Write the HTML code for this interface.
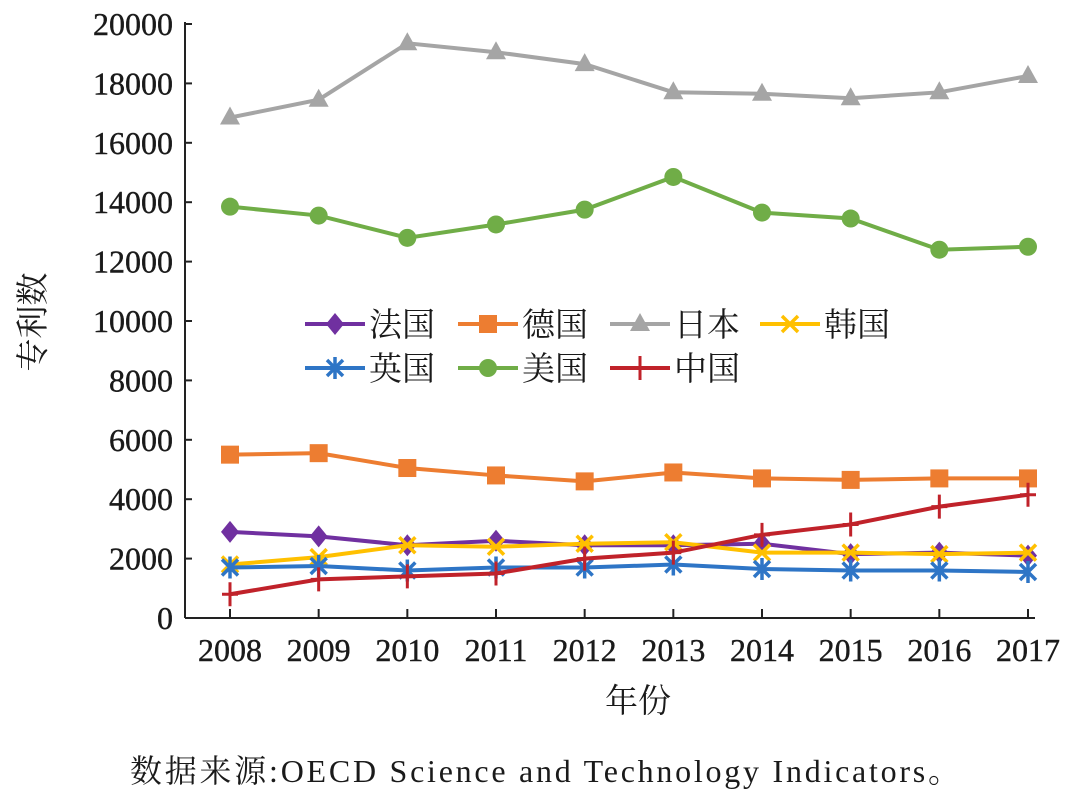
<!DOCTYPE html>
<html><head><meta charset="utf-8"><style>
body{margin:0;background:#fff;}
svg text{font-family:"Liberation Serif","Noto Serif CJK SC",serif;fill:#1a1a1a;}
</style></head><body>
<svg width="1080" height="804" xmlns="http://www.w3.org/2000/svg">
<g id="axes"></g><g id="series"></g><g id="legend"></g>
<text x="638" y="712" font-size="33" text-anchor="middle">年份</text>
<text transform="translate(44,322) rotate(-90)" font-size="33" text-anchor="middle">专利数</text>
<text x="130" y="782" font-size="32" textLength="830" lengthAdjust="spacing">数据来源:OECD Science and Technology Indicators。</text>
</svg>
<script>
const years=[2008,2009,2010,2011,2012,2013,2014,2015,2016,2017];
const yTicks=[0,2000,4000,6000,8000,10000,12000,14000,16000,18000,20000];
const france=[2900,2750,2450,2600,2450,2450,2500,2150,2200,2100];
const germany=[5500,5550,5050,4800,4600,4900,4700,4650,4700,4700];
const japan=[16850,17450,19350,19050,18650,17700,17650,17500,17700,18250];
const korea=[1800,2050,2450,2400,2500,2550,2200,2200,2150,2200];
const uk=[1700,1750,1600,1700,1700,1800,1650,1600,1600,1550];
const usa=[13850,13550,12800,13250,13750,14850,13650,13450,12400,12500];
const china=[800,1300,1400,1500,2000,2200,2800,3150,3750,4150];
const NS="http://www.w3.org/2000/svg";
const x0=185,x1=1035,yB=618,yT=24;
const xs=i=>230+i*(1028-230)/(years.length-1);
const ys=v=>yB-(v/20000)*(yB-yT);
function mk(t,a,p){const e=document.createElementNS(NS,t);for(const k in a)e.setAttribute(k,a[k]);p.appendChild(e);return e;}
const ax=document.getElementById('axes');
const yl=mk('line',{x1:x0,y1:yT-2,x2:x0,y2:yB,stroke:'#222','stroke-width':2},ax);


const xl=mk('line',{x1:x0,y1:yB,x2:x1,y2:yB,stroke:'#222','stroke-width':2},ax);


yTicks.forEach(v=>{mk('line',{x1:x0,y1:ys(v),x2:x0+7,y2:ys(v),stroke:'#222','stroke-width':2},ax);
const t=mk('text',{x:x0-12,y:ys(v)+11,'font-size':32,'text-anchor':'end','stroke':'#1a1a1a','stroke-width':0.4},ax);t.textContent=v;

});
years.forEach((y,i)=>{mk('line',{x1:xs(i),y1:yB,x2:xs(i),y2:yB-9,stroke:'#222','stroke-width':2},ax);
const t=mk('text',{x:xs(i),y:yB+43,'font-size':32,'text-anchor':'middle','stroke':'#1a1a1a','stroke-width':0.4},ax);t.textContent=y;

});
function marker(type,cx,cy,c,g){
 if(type==='diamond')mk('polygon',{points:`${cx},${cy-11} ${cx+9},${cy} ${cx},${cy+11} ${cx-9},${cy}`,fill:c},g);
 else if(type==='square')mk('rect',{x:cx-9,y:cy-9,width:18,height:18,fill:c},g);
 else if(type==='tri')mk('polygon',{points:`${cx},${cy-11} ${cx+10},${cy+7} ${cx-10},${cy+7}`,fill:c},g);
 else if(type==='x'){mk('path',{d:`M${cx-8} ${cy-8}L${cx+8} ${cy+8}M${cx+8} ${cy-8}L${cx-8} ${cy+8}`,stroke:c,'stroke-width':3.5},g);}
 else if(type==='star'){mk('path',{d:`M${cx-8} ${cy-8}L${cx+8} ${cy+8}M${cx+8} ${cy-8}L${cx-8} ${cy+8}M${cx} ${cy-11}L${cx} ${cy+11}`,stroke:c,'stroke-width':3.5},g);}
 else if(type==='circle')mk('circle',{cx,cy,r:9,fill:c},g);
 else if(type==='plus'){mk('path',{d:`M${cx-8} ${cy}L${cx+8} ${cy}M${cx} ${cy-12}L${cx} ${cy+12}`,stroke:c,'stroke-width':3},g);}
}
const series=[
 {n:'法国',d:france,c:'#7030a0',m:'diamond',k:'france'},
 {n:'德国',d:germany,c:'#ed7d31',m:'square',k:'germany'},
 {n:'日本',d:japan,c:'#a5a5a5',m:'tri',k:'japan'},
 {n:'韩国',d:korea,c:'#ffc000',m:'x',k:'korea'},
 {n:'英国',d:uk,c:'#2e75c6',m:'star',k:'uk'},
 {n:'美国',d:usa,c:'#70ad47',m:'circle',k:'usa'},
 {n:'中国',d:china,c:'#c0222a',m:'plus',k:'china'}];
const sg=document.getElementById('series');
const drawOrder=[2,5,1,0,3,4,6];
drawOrder.forEach(j=>{const s=series[j];const g=mk('g',{},sg);
 
 
 mk('polyline',{points:s.d.map((v,i)=>xs(i)+','+ys(v)).join(' '),fill:'none',stroke:s.c,'stroke-width':4},g);
 s.d.forEach((v,i)=>marker(s.m,xs(i),ys(v),s.c,g));});
const lg=document.getElementById('legend');
const lx=[305,458,610,760],lyy=[324,368];
series.forEach((s,j)=>{const g=mk('g',{},lg);
 
 
 const x=lx[j%4],y=lyy[Math.floor(j/4)];
 mk('line',{x1:x,y1:y,x2:x+60,y2:y,stroke:s.c,'stroke-width':4},g);
 marker(s.m,x+30,y,s.c,g);
 const t=mk('text',{x:x+64,y:y+12,'font-size':33},g);t.textContent=s.n;});
</script>
</body></html>
